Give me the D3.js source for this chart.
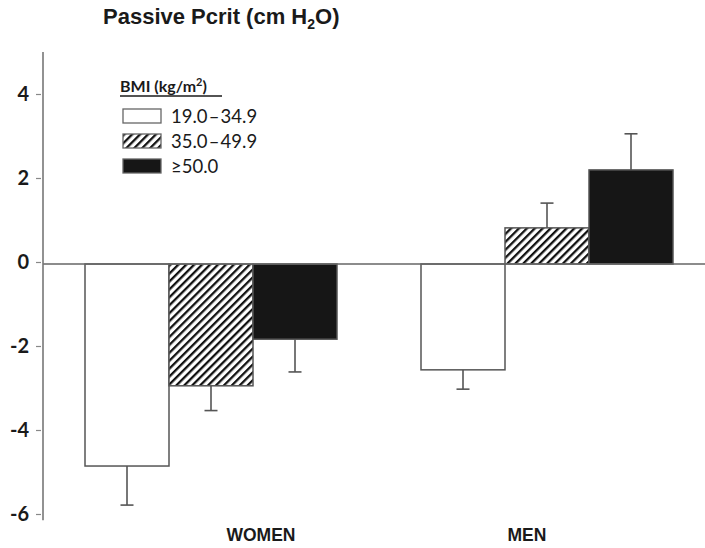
<!DOCTYPE html>
<html>
<head>
<meta charset="utf-8">
<script src="https://cdn.jsdelivr.net/npm/d3@7"></script>
<style>
  html, body { margin: 0; padding: 0; background: #fff; }
  svg { display: block; }
</style>
</head>
<body>
<div id="chart"></div>
<script>
// data
const groups = ["WOMEN", "MEN"];
const series = ["19.0\u200a\u2013\u200a34.9", "35.0\u200a\u2013\u200a49.9", "\u226550.0"];
const means = [
  [-4.81, -2.90, -1.79],   // WOMEN
  [-2.52, 0.86, 2.24]      // MEN
];
const errEnds = [
  [-5.74, -3.49, -2.57],
  [-2.98, 1.45, 3.10]
];
const yTicks = [4, 2, 0, -2, -4, -6];

(function () {
  const W = 705, H = 548;
  const svg = d3.select("#chart").append("svg")
    .attr("width", W).attr("height", H);

  const defs = svg.append("defs");
  const pat = defs.append("pattern")
    .attr("id", "hatch")
    .attr("patternUnits", "userSpaceOnUse")
    .attr("width", 5.6).attr("height", 5.6)
    .attr("patternTransform", "rotate(45)");
  pat.append("rect").attr("width", 5.6).attr("height", 5.6).attr("fill", "#fff");
  pat.append("rect").attr("x", 0).attr("width", 2.3).attr("height", 5.6).attr("fill", "#111");

  const fills = ["#fff", "url(#hatch)", "#161616"];

  // scales
  const y = d3.scaleLinear().domain([-6, 5]).range([516, 54]);
  const x0 = d3.scaleBand().domain(groups).range([43, 715])
    .paddingInner(0.25).paddingOuter(0.125);
  const x1 = d3.scaleBand().domain(d3.range(series.length)).range([0, x0.bandwidth()]);
  const xLab = d3.scalePoint().domain(groups).range([261, 527]);

  // title
  const title = svg.append("text")
    .attr("x", 103).attr("y", 24)
    .style("font-family", "'Liberation Sans', Arial, sans-serif")
    .style("font-weight", 700)
    .style("font-size", "22px")
    .attr("fill", "#1a1a1a");
  title.append("tspan").text("Passive Pcrit (cm H");
  title.append("tspan").attr("dy", 5).style("font-size", "14px").text("2");
  title.append("tspan").attr("dy", -5).text("O)");

  // bars
  const gBars = svg.append("g");
  groups.forEach((grp, gi) => {
    const gg = gBars.append("g").attr("transform", `translate(${x0(grp)},0)`);
    series.forEach((s, si) => {
      const v = means[gi][si];
      const cx = x1(si) + x1.bandwidth() / 2;
      gg.append("line")
        .attr("x1", cx).attr("x2", cx)
        .attr("y1", y(v)).attr("y2", y(errEnds[gi][si]))
        .attr("stroke", "#555").attr("stroke-width", 1.6);
      gg.append("line")
        .attr("x1", cx - 6.5).attr("x2", cx + 6.5)
        .attr("y1", y(errEnds[gi][si])).attr("y2", y(errEnds[gi][si]))
        .attr("stroke", "#555").attr("stroke-width", 1.6);
      gg.append("rect")
        .attr("x", x1(si))
        .attr("width", x1.bandwidth())
        .attr("y", y(Math.max(0, v)))
        .attr("height", Math.abs(y(v) - y(0)))
        .attr("fill", fills[si])
        .attr("stroke", "#555").attr("stroke-width", 1.5);
    });
  });

  // zero line
  svg.append("line")
    .attr("x1", 43).attr("x2", W)
    .attr("y1", y(0)).attr("y2", y(0))
    .attr("stroke", "#666").attr("stroke-width", 1.5);

  // y axis
  const yAxis = svg.append("g")
    .attr("transform", "translate(43,-2)")
    .call(d3.axisLeft(y).tickValues(yTicks).tickSize(5).tickPadding(9)
      .tickFormat(d => String(d)));
  yAxis.select(".domain").remove();
  yAxis.selectAll(".tick line").attr("stroke", "#888").attr("stroke-width", 1.2).attr("transform", "translate(-2,0)");
  yAxis.selectAll(".tick text")
    .style("font-family", "Lato, 'Open Sans', sans-serif")
    .style("font-weight", 700)
    .style("font-size", "20px")
    .attr("fill", "#1a1a1a");
  svg.append("line")
    .attr("x1", 43).attr("x2", 43)
    .attr("y1", y(5.05)).attr("y2", y(-6.1))
    .attr("stroke", "#777").attr("stroke-width", 1.6);

  // category labels
  svg.selectAll("text.cat")
    .data(groups)
    .join("text")
    .attr("class", "cat")
    .attr("x", d => xLab(d))
    .attr("y", 541)
    .attr("text-anchor", "middle")
    .style("font-family", "'Liberation Sans', Arial, sans-serif")
    .style("font-weight", 700)
    .style("font-size", "17.5px")
    .attr("fill", "#1a1a1a")
    .text(d => d);

  // legend
  const leg = svg.append("g").attr("transform", "translate(120,0)");
  const lt = leg.append("text")
    .attr("x", 0).attr("y", 92)
    .style("font-family", "Lato, 'Open Sans', sans-serif")
    .style("font-weight", 700)
    .style("font-size", "16px")
    .attr("fill", "#1a1a1a");
  lt.append("tspan").text("BMI (kg/m");
  lt.append("tspan").attr("dy", -6).style("font-size", "11px").text("2");
  lt.append("tspan").attr("dy", 6).text(")");
  leg.append("line")
    .attr("x1", 0).attr("x2", 102).attr("y1", 96).attr("y2", 96)
    .attr("stroke", "#1a1a1a").attr("stroke-width", 1.3);

  const items = leg.selectAll("g.item")
    .data(series)
    .join("g")
    .attr("class", "item")
    .attr("transform", (d, i) => `translate(3,${109 + i * 25})`);
  items.append("rect")
    .attr("width", 38).attr("height", 14)
    .attr("fill", (d, i) => fills[i])
    .attr("stroke", "#666").attr("stroke-width", 1.3);
  items.append("text")
    .attr("x", 48).attr("y", 14)
    .style("font-family", "Lato, 'Open Sans', sans-serif")
    .style("font-size", "18.5px")
    .attr("fill", "#1a1a1a")
    .text(d => d);
})();
</script>
</body>
</html>
